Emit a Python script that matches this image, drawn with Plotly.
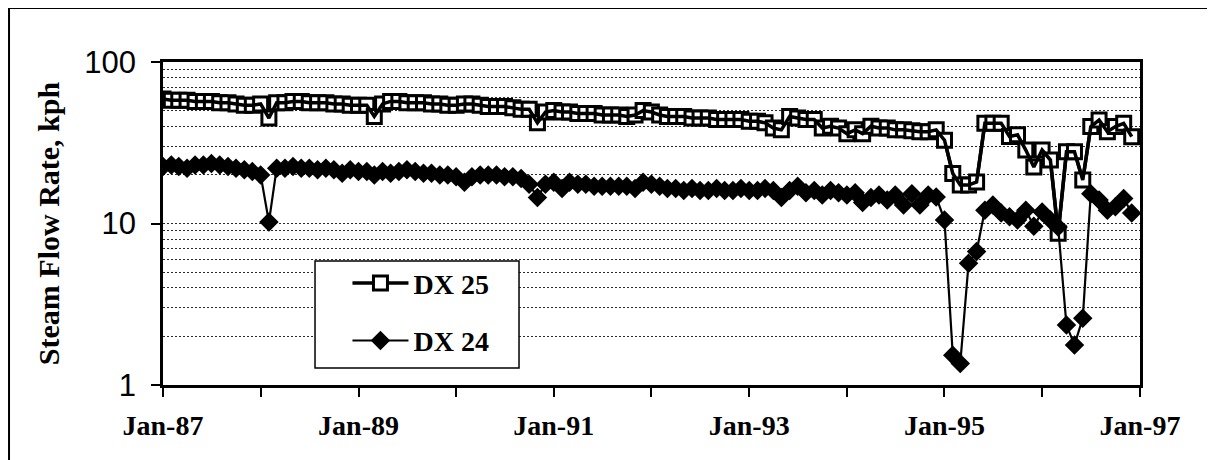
import pandas as pd
import plotly.graph_objects as go

# ---- data (monthly, Jan-87 .. Dec-96) ----
months = pd.date_range("1987-01-01", periods=120, freq="MS")

dx25 = [59, 58, 58, 58, 57, 57, 57, 56, 56, 55, 54, 54,
        55, 45, 56,
        56, 57, 57, 56, 56, 56, 55, 55, 54, 54,
        54, 46, 55,
        57, 57, 56, 56, 56, 55, 55, 54, 54, 55, 55, 54, 53, 53, 53, 52, 51, 51,
        42,
        49, 50, 49, 49, 48, 48, 48, 47, 47, 47, 46, 47, 50,
        49, 47,
        46, 46, 46, 45, 45, 45, 44, 44, 44, 44, 43, 43, 42,
        39, 38, 46, 45, 44,
        44, 39, 40, 39, 36, 38, 36, 40, 39, 39,
        38, 38, 37.5, 37, 37, 38,
        32.8, 20.4, 17.3, 17.3, 18.1, 41.7, 41.7, 41.7, 34.6, 35.4, 28.5, 22.4,
        28.5, 24.7, 8.7, 27.8, 27.8, 18.6, 39.8, 43.7, 37, 39.8, 41.7, 34.5]

dx24 = [22.5, 23, 22.5, 22, 23, 23, 23.5, 23, 22.5, 22, 21.5, 21, 20,
        10.2, 22,
        22, 22.5, 22, 22, 21.5, 22, 21.5, 20.5, 21.5, 21, 21, 20, 21, 20.5,
        21, 21.5, 21, 20.5, 20.5, 20, 20, 19.5, 18, 19.5, 20, 20, 20, 19.5, 19.5,
        19, 17.5, 14.5, 17.5, 18,
        16.5, 18, 17.5, 17.5, 17, 17, 17, 17, 17, 16.5, 18, 17.5, 17,
        16.5, 16.5, 16, 16.5, 16, 16, 16.5, 16, 16, 16.5, 16, 16, 16.5, 16,
        14.5, 16, 17, 15.5, 16, 15, 16, 15.5, 15, 15.5, 13.5, 14.5, 15, 14,
        15, 13, 15.3, 13, 15, 14.6, 10.5, 1.53, 1.36, 5.67, 6.7, 12.1,
        13, 11.6, 11.0, 10.5, 12.1, 9.6, 11.8, 10.5, 9.5, 2.35, 1.77, 2.59,
        15.3, 14, 12.1, 12.7, 14.3, 11.6]

year_ticks = pd.date_range("1987-01-01", "1997-01-01", freq="YS")
year_labels = ["Jan-87", "", "Jan-89", "", "Jan-91", "", "Jan-93", "", "Jan-95", "", "Jan-97"]

y_major = [1, 10, 100]
y_major_labels = ["1", "10", "100"]
y_minor = [2, 3, 4, 5, 6, 7, 8, 9, 20, 30, 40, 50, 60, 70, 80, 90]

SERIF = "Liberation Serif"
SANS = "Liberation Sans"
GRID = "#2a2a2a"

fig = go.Figure()
fig.add_trace(go.Scatter(
    x=months, y=dx25, name="DX 25", mode="lines+markers", legendgroup="g25",
    line=dict(color="black", width=3.5),
    marker=dict(symbol="square", size=14, color="white",
                line=dict(color="black", width=3)),
))
# the scanned original shows the thick DX 25 line running over its markers
fig.add_trace(go.Scatter(
    x=months, y=dx25, name="DX 25", mode="lines", legendgroup="g25",
    showlegend=False, hoverinfo="skip",
    line=dict(color="black", width=3.5),
))
fig.add_trace(go.Scatter(
    x=months, y=dx24, name="DX 24", mode="lines+markers", legendgroup="g24",
    line=dict(color="black", width=2.2),
    marker=dict(symbol="diamond", size=15, color="black",
                line=dict(color="black", width=0)),
))

# page body has an 8px default margin: figure is 8px smaller and margins shifted
fig.update_layout(
    width=1207, height=452, autosize=False,
    margin=dict(l=155, r=75, t=54, b=75, autoexpand=False),
    paper_bgcolor="white", plot_bgcolor="white",
    showlegend=True,
    legend=dict(
        x=0.1888, y=0.392, xanchor="left", yanchor="top",
        bgcolor="rgba(0,0,0,0)", borderwidth=0,
        font=dict(family=SERIF, size=28, color="black", weight="bold"),
        itemwidth=56, tracegroupgap=18, traceorder="grouped",
        valign="middle",
    ),
    xaxis=dict(
        type="date", range=["1987-01-01", "1997-01-01"],
        tickmode="array", tickvals=year_ticks, ticktext=year_labels,
        ticks="outside", ticklen=9, tickwidth=1.5, tickcolor="black",
        showline=True, linewidth=2.5, linecolor="black", mirror=True,
        showgrid=False, zeroline=False,
        tickfont=dict(family=SERIF, size=28, color="black", weight="bold"),
        ticklabelstandoff=5,
    ),
    yaxis=dict(
        type="log", range=[0, 2],
        tickmode="array", tickvals=y_major, ticktext=y_major_labels,
        ticks="outside", ticklen=9, tickwidth=1.5, tickcolor="black",
        showline=True, linewidth=2.5, linecolor="black", mirror=True,
        showgrid=True, gridcolor=GRID, gridwidth=1, griddash="2px,2px",
        minor=dict(tickmode="array", tickvals=y_minor, showgrid=True,
                   gridcolor=GRID, gridwidth=1, griddash="2px,2px", ticks=""),
        zeroline=False,
        tickfont=dict(family=SANS, size=31, color="black"),
        ticklabelstandoff=9,
        title=dict(text="Steam Flow Rate, kph", standoff=16,
                   font=dict(family=SERIF, size=30, color="black", weight="bold")),
    ),
    shapes=[
        dict(type="rect", xref="paper", yref="paper",
             x0=-0.1576, x1=1.2, y0=-0.4, y1=1.167,
             line=dict(color="black", width=2), fillcolor="rgba(0,0,0,0)",
             layer="below"),
        # legend box
        dict(type="rect", xref="paper", yref="paper",
             x0=0.1556, x1=0.3644, y0=0.0526, y1=0.3839,
             line=dict(color="black", width=1.5), fillcolor="white",
             layer="above"),
    ],
)

fig.write_html("out.html")
